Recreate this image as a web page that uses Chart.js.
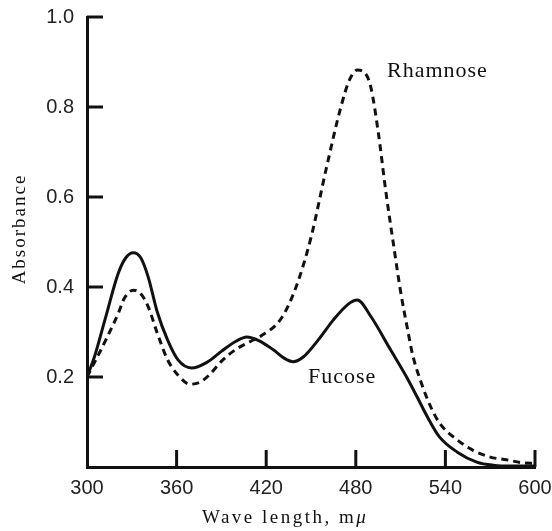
<!DOCTYPE html>
<html>
<head>
<meta charset="utf-8">
<script src="https://cdn.jsdelivr.net/npm/chart.js@4/dist/chart.umd.min.js"></script>
<style>
  html, body { margin: 0; padding: 0; background: #fff; }
  #wrap { width: 552px; height: 531px; }
</style>
</head>
<body>
<div id="wrap"><canvas id="spectrum"></canvas></div>
<script>
// wavelengths (mμ) and absorbance
const fucoseNm = [300, 305, 312, 321, 326, 331, 336, 341, 347, 354, 361, 370, 380, 390, 400, 407, 415, 425, 432, 438, 445, 455, 465, 475, 481, 490, 503, 514, 521, 528, 536, 548, 561, 572, 585, 600];
const fucoseAbs = [0.20, 0.245, 0.327, 0.431, 0.465, 0.476, 0.465, 0.422, 0.345, 0.282, 0.238, 0.220, 0.232, 0.257, 0.280, 0.289, 0.281, 0.260, 0.242, 0.234, 0.245, 0.283, 0.327, 0.362, 0.371, 0.335, 0.262, 0.200, 0.156, 0.111, 0.067, 0.033, 0.011, 0.004, 0.002, 0.002];

const rhamnoseNm = [300, 307, 314, 321, 325, 331, 336, 341, 347, 354, 361, 369, 376, 382, 391, 400, 410, 416, 430, 440, 450, 460, 470, 476, 481, 486, 490, 495, 500, 505, 510, 515, 518, 523, 530, 536, 548, 558, 570, 581, 592, 600];
const rhamnoseAbs = [0.20, 0.245, 0.292, 0.342, 0.375, 0.393, 0.385, 0.356, 0.298, 0.238, 0.204, 0.184, 0.189, 0.205, 0.238, 0.262, 0.280, 0.290, 0.330, 0.400, 0.510, 0.660, 0.800, 0.862, 0.882, 0.876, 0.845, 0.745, 0.615, 0.500, 0.390, 0.300, 0.250, 0.195, 0.135, 0.098, 0.060, 0.038, 0.022, 0.016, 0.009, 0.008];

const xTicks = [300, 360, 420, 480, 540, 600];
const yTicks = [0, 0.2, 0.4, 0.6, 0.8, 1.0];

const toPoints = (xs, ys) => xs.map((x, i) => ({ x: x, y: ys[i] }));

const ink = '#111';

// short tick marks that point into the plot, plus the hand-placed labels
const figureMarks = {
    id: 'figureMarks',
    afterDatasetsDraw(chart) {
        const { ctx, chartArea, scales } = chart;
        ctx.save();
        ctx.strokeStyle = ink;
        ctx.lineWidth = 3;
        xTicks.forEach(v => {
            if (v === 300) return;
            const px = scales.x.getPixelForValue(v);
            ctx.beginPath();
            ctx.moveTo(px, chartArea.bottom);
            ctx.lineTo(px, chartArea.bottom - 17);
            ctx.stroke();
        });
        yTicks.forEach(v => {
            if (v === 0) return;
            const py = scales.y.getPixelForValue(v);
            ctx.beginPath();
            ctx.moveTo(chartArea.left, py);
            ctx.lineTo(chartArea.left + 16, py);
            ctx.stroke();
        });

        ctx.fillStyle = ink;
        ctx.textBaseline = 'alphabetic';
        ctx.textAlign = 'left';
        ctx.font = '22px "Liberation Serif"';
        ctx.letterSpacing = '1px';
        ctx.fillText('Rhamnose', 387, 77);
        ctx.fillText('Fucose', 308, 383);

        ctx.font = '19px "Liberation Serif"';
        ctx.letterSpacing = '2.5px';
        const base = 'Wave length, m';
        ctx.fillText(base, 202, 523);
        const w = ctx.measureText(base).width;
        ctx.font = 'italic 19px "Liberation Serif"';
        ctx.fillText('μ', 202 + w, 523);

        ctx.translate(25, 229);
        ctx.rotate(-Math.PI / 2);
        ctx.textAlign = 'center';
        ctx.font = '19px "Liberation Serif"';
        ctx.letterSpacing = '2px';
        ctx.fillText('Absorbance', 0, 0);
        ctx.restore();
    }
};

new Chart(document.getElementById('spectrum'), {
    type: 'line',
    data: {
        datasets: [
            {
                label: 'Fucose',
                data: toPoints(fucoseNm, fucoseAbs),
                borderColor: ink,
                borderWidth: 3,
                pointRadius: 0,
                cubicInterpolationMode: 'monotone',
                fill: false,
            },
            {
                label: 'Rhamnose',
                data: toPoints(rhamnoseNm, rhamnoseAbs),
                borderColor: ink,
                borderWidth: 3,
                borderDash: [7, 5],
                pointRadius: 0,
                cubicInterpolationMode: 'monotone',
                fill: false,
            },
        ],
    },
    options: {
        responsive: true,
        maintainAspectRatio: false,
        animation: false,
        layout: { padding: { top: 17, right: 17, left: 0, bottom: 0 } },
        plugins: {
            legend: { display: false },
            tooltip: { enabled: false },
        },
        scales: {
            x: {
                type: 'linear',
                min: 300,
                max: 600,
                afterBuildTicks: (scale) => { scale.ticks = xTicks.map(v => ({ value: v })); },
                afterFit: (scale) => {
                    scale.height = 64;
                    scale.paddingLeft = 0;
                    scale.paddingRight = 0;
                },
                grid: { display: false, drawTicks: false },
                border: { display: true, width: 3, color: ink },
                ticks: {
                    color: '#222',
                    padding: 9,
                    maxRotation: 0,
                    font: { family: '"Liberation Sans Narrow", "Liberation Sans"', size: 20 },
                },
            },
            y: {
                min: 0,
                max: 1.0,
                afterBuildTicks: (scale) => { scale.ticks = yTicks.map(v => ({ value: v })); },
                afterFit: (scale) => {
                    scale.width = 87;
                    scale.paddingTop = 0;
                    scale.paddingBottom = 0;
                },
                grid: { display: false, drawTicks: false },
                border: { display: true, width: 3, color: ink },
                ticks: {
                    color: '#222',
                    padding: 13,
                    font: { family: '"Liberation Sans Narrow", "Liberation Sans"', size: 20 },
                    callback: (v) => v === 0 ? '' : v.toFixed(1),
                },
            },
        },
    },
    plugins: [figureMarks],
});
</script>
</body>
</html>
